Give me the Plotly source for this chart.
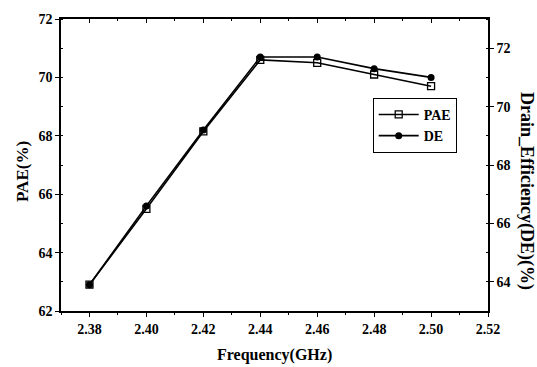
import plotly.graph_objects as go

freq = [2.38, 2.40, 2.42, 2.44, 2.46, 2.48, 2.50]
pae = [62.9, 65.5, 68.15, 70.6, 70.5, 70.1, 69.7]
de = [63.9, 66.6, 69.2, 71.7, 71.7, 71.3, 71.0]
x_ticks = [2.38, 2.40, 2.42, 2.44, 2.46, 2.48, 2.50, 2.52]
left_ticks = [62, 64, 66, 68, 70, 72]
right_ticks = [64, 66, 68, 70, 72]

FONT = "Liberation Serif"
fig = go.Figure()
fig.add_trace(go.Scatter(
    x=freq, y=pae, name="PAE", mode="lines+markers",
    line=dict(color="black", width=1.6),
    marker=dict(symbol="square-open", size=7, color="black", line=dict(width=1.3)),
    xaxis="x", yaxis="y"))
fig.add_trace(go.Scatter(
    x=freq, y=de, name="DE", mode="lines+markers",
    line=dict(color="black", width=1.6),
    marker=dict(symbol="circle", size=7, color="black"),
    xaxis="x", yaxis="y2"))
# invisible trace to realise the top mirror axis
fig.add_trace(go.Scatter(x=[freq[0]], y=[pae[0]], xaxis="x2", yaxis="y",
                         mode="markers", marker=dict(opacity=0), showlegend=False,
                         hoverinfo="skip"))

tickfont = dict(family=FONT, size=14, color="black", weight="bold")
titlefont = dict(family=FONT, size=16, color="black", weight="bold")
fig.update_layout(
    width=537, height=367,
    margin=dict(l=61, r=49, t=16, b=56),
    paper_bgcolor="white", plot_bgcolor="white",
    font=dict(family=FONT, color="black"),
    showlegend=True,
    legend=dict(x=0.73, y=0.73, xanchor="left", yanchor="top",
                bordercolor="black", borderwidth=1, bgcolor="white",
                font=dict(family=FONT, size=14, color="black", weight="bold"),
                itemwidth=40, tracegroupgap=0),
    xaxis=dict(range=[2.37, 2.52], tickvals=x_ticks, tickformat=".2f",
               ticks="outside", ticklen=4, tickwidth=1.2, tickcolor="black",
               minor=dict(dtick=0.01, tick0=2.37, ticks="outside", ticklen=2, tickcolor="black"),
               showline=True, linecolor="black", linewidth=1.5,
               showgrid=False, zeroline=False, tickfont=tickfont),
    xaxis2=dict(range=[2.37, 2.52], tickvals=x_ticks, overlaying="x", side="top",
                anchor="y", ticks="inside", ticklen=4, tickwidth=1.2, tickcolor="black",
                minor=dict(dtick=0.01, tick0=2.37, ticks="inside", ticklen=2, tickcolor="black"),
                showticklabels=False, showline=True, linecolor="black", linewidth=1.5,
                showgrid=False, zeroline=False),
    yaxis=dict(range=[62, 72], tickvals=left_ticks,
               ticks="outside", ticklen=4, tickwidth=1.2, tickcolor="black",
               minor=dict(dtick=1, ticks="inside", ticklen=2, tickcolor="black"),
               showline=True, linecolor="black", linewidth=1.5,
               showgrid=False, zeroline=False, tickfont=tickfont),
    yaxis2=dict(range=[63, 73], tickvals=right_ticks, overlaying="y", side="right",
                anchor="x", ticks="outside", ticklen=4, tickwidth=1.2, tickcolor="black",
                minor=dict(dtick=1, ticks="inside", ticklen=2, tickcolor="black"),
                showline=True, linecolor="black", linewidth=1.5,
                showgrid=False, zeroline=False, tickfont=tickfont),
    annotations=[
        dict(text="Drain_Efficiency(DE)(%)", textangle=90,
             xref="paper", yref="paper", x=1.0, y=0.5, xshift=39, yshift=-26,
             showarrow=False, xanchor="center", yanchor="middle",
             font=dict(family=FONT, size=18, color="black", weight="bold")),
        dict(text="PAE(%)", textangle=-90,
             xref="paper", yref="paper", x=0.0, y=0.5, xshift=-39, yshift=-7,
             showarrow=False, xanchor="center", yanchor="middle",
             font=dict(family=FONT, size=17, color="black", weight="bold")),
        dict(text="Frequency(GHz)",
             xref="paper", yref="paper", x=0.5, y=0.0, yshift=-44,
             showarrow=False, xanchor="center", yanchor="middle", font=titlefont),
    ],
)
fig.write_html("out.html")
